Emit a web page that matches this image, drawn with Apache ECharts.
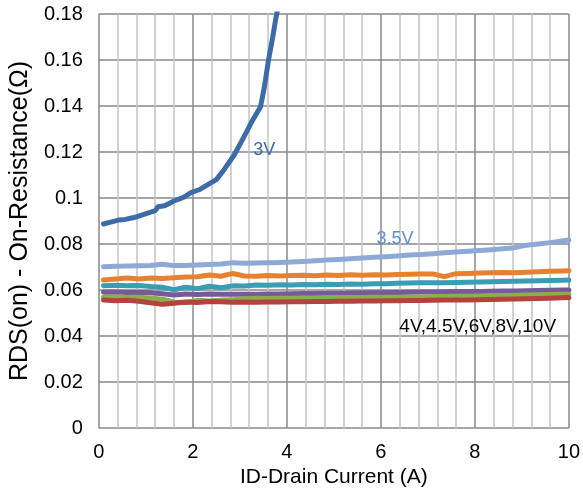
<!DOCTYPE html>
<html>
<head>
<meta charset="utf-8">
<script src="https://cdn.jsdelivr.net/npm/echarts@6/dist/echarts.min.js"></script>
<style>html,body{margin:0;padding:0;background:#fff}#c{width:583px;height:495px}</style>
</head>
<body>
<div id="c"></div>
<script>
// Drain current (A) for the 3V curve
const current3V = [0.1,0.25,0.42,0.56,0.75,0.91,1.12,1.2,1.26,1.4,1.61,1.8,1.96,2.15,2.31,2.5,2.66,2.88,3.09,3.25,3.44,3.52,3.61,3.7,3.76,3.82,3.9];
const rds3V = [0.0887,0.0895,0.0904,0.0907,0.0915,0.0926,0.0940,0.0945,0.0962,0.0966,0.0988,0.1003,0.1023,0.1037,0.1057,0.1080,0.1122,0.1187,0.1267,0.1330,0.1397,0.1480,0.1600,0.1700,0.1774,0.1840,0.1950];
// Drain current (A) shared by the other curves
const current = [0.1,0.35,0.6,0.85,1.1,1.35,1.6,1.85,2.1,2.35,2.6,2.85,3.1,3.35,3.6,3.85,4.1,4.35,4.6,4.85,5.1,5.35,5.6,5.85,6.1,6.35,6.6,6.85,7.1,7.35,7.6,7.85,8.1,8.35,8.6,8.85,9.1,9.35,9.6,9.85,10];
const rds3_5V = [0.0701,0.0703,0.0704,0.0705,0.0707,0.0712,0.0706,0.0707,0.0709,0.0711,0.0713,0.0719,0.0716,0.0717,0.0719,0.0720,0.0722,0.0724,0.0727,0.0730,0.0733,0.0736,0.0739,0.0742,0.0745,0.0748,0.0752,0.0754,0.0758,0.0762,0.0765,0.0768,0.0772,0.0775,0.0779,0.0784,0.0795,0.0800,0.0806,0.0813,0.0817];
const rds4V = [0.0643,0.0648,0.0652,0.0648,0.0652,0.0650,0.0653,0.0657,0.0658,0.0665,0.0660,0.0672,0.0661,0.0660,0.0663,0.0661,0.0663,0.0664,0.0662,0.0665,0.0663,0.0666,0.0664,0.0666,0.0665,0.0667,0.0669,0.0670,0.0670,0.0658,0.0671,0.0672,0.0674,0.0675,0.0676,0.0675,0.0677,0.0679,0.0681,0.0683,0.0684];
const rds4_5V = [0.0619,0.0621,0.0618,0.0620,0.0615,0.0612,0.0601,0.0612,0.0606,0.0616,0.0610,0.0618,0.0617,0.0622,0.0621,0.0623,0.0622,0.0624,0.0623,0.0625,0.0624,0.0626,0.0625,0.0627,0.0627,0.0629,0.0630,0.0631,0.0631,0.0632,0.0633,0.0634,0.0635,0.0636,0.0637,0.0638,0.0639,0.0640,0.0641,0.0642,0.0643];
const rds6V = [0.0590,0.0591,0.0589,0.0590,0.0588,0.0584,0.0578,0.0583,0.0580,0.0583,0.0581,0.0582,0.0581,0.0582,0.0583,0.0583,0.0584,0.0585,0.0585,0.0586,0.0586,0.0587,0.0588,0.0588,0.0589,0.0589,0.0590,0.0591,0.0591,0.0592,0.0593,0.0593,0.0594,0.0595,0.0596,0.0596,0.0597,0.0598,0.0599,0.0600,0.0600];
const rds8V = [0.0568,0.0569,0.0567,0.0568,0.0565,0.0560,0.0548,0.0546,0.0555,0.0552,0.0556,0.0558,0.0561,0.0564,0.0563,0.0564,0.0564,0.0565,0.0565,0.0566,0.0566,0.0567,0.0567,0.0568,0.0568,0.0569,0.0569,0.0570,0.0571,0.0572,0.0573,0.0573,0.0574,0.0575,0.0576,0.0577,0.0578,0.0579,0.0580,0.0581,0.0581];
const rds10V = [0.0557,0.0553,0.0555,0.0551,0.0545,0.0538,0.0542,0.0548,0.0546,0.0550,0.0549,0.0547,0.0548,0.0547,0.0548,0.0548,0.0549,0.0549,0.0550,0.0550,0.0551,0.0551,0.0552,0.0552,0.0553,0.0553,0.0554,0.0554,0.0555,0.0556,0.0557,0.0557,0.0558,0.0559,0.0560,0.0561,0.0562,0.0563,0.0564,0.0566,0.0567];

const seriesNames = ['3V','3.5V','4V','4.5V','6V','8V','10V'];
const seriesColors = ['#3D6BA8','#8FA9D6','#E6822F','#3A9DB3','#775A9A','#8AAE4A','#B3433F'];
const seriesY = [rds3V, rds3_5V, rds4V, rds4_5V, rds6V, rds8V, rds10V];

const zip = (xs, ys) => xs.map((x, i) => [x, ys[i]]);

const chart = echarts.init(document.getElementById('c'), null, {renderer: 'canvas'});
const font = 'Liberation Sans, Arial, sans-serif';
chart.setOption({
  animation: false,
  grid: {left: 97, right: 12, top: 14, bottom: 67},
  xAxis: {
    type: 'value', min: 0, max: 10, interval: 2,
    name: 'ID-Drain Current (A)', nameLocation: 'middle', nameGap: 39,
    nameTextStyle: {fontFamily: font, fontSize: 21, color: '#000'},
    axisLine: {show: false}, axisTick: {show: false},
    axisLabel: {fontFamily: font, fontSize: 20, color: '#000', margin: 14},
    splitLine: {show: true, lineStyle: {color: '#898989', width: 1.5}},
    minorTick: {show: false, splitNumber: 5},
    minorSplitLine: {show: true, lineStyle: {color: '#c3c3c3', width: 1.5}}
  },
  yAxis: {
    type: 'value', min: 0, max: 0.18, interval: 0.02,
    name: 'RDS(on) - On-Resistance(Ω)', nameLocation: 'middle', nameGap: 65,
    nameTextStyle: {fontFamily: font, fontSize: 25, color: '#000'},
    axisLine: {show: false}, axisTick: {show: false},
    axisLabel: {fontFamily: font, fontSize: 20, color: '#000', margin: 16},
    splitLine: {show: true, lineStyle: {color: '#898989', width: 1.5}}
  },
  series: seriesNames.map((n, i) => ({
    name: n, type: 'line', showSymbol: false, smooth: false, clip: true,
    data: zip(i === 0 ? current3V : current, seriesY[i]),
    lineStyle: {color: seriesColors[i], width: 5, cap: 'round', join: 'round'},
    itemStyle: {color: seriesColors[i]}
  }))
});

const labels = [
  {text: '3V', at: [3.52, 0.1207], color: '#3D6BA8'},
  {text: '3.5V', at: [6.3, 0.0823], color: '#5B8CD8'},
  {text: '4V,4.5V,6V,8V,10V', at: [8.06, 0.0440], color: '#000'}
];
chart.setOption({
  graphic: labels.map(l => {
    const p = chart.convertToPixel({gridIndex: 0}, l.at);
    return {type: 'text', x: p[0], y: p[1], z: 100,
      style: {text: l.text, fill: l.color, font: (l.text.length > 5 ? '19px ' : '18px ') + font, align: 'center', verticalAlign: 'middle'}};
  })
});
</script>
</body>
</html>
